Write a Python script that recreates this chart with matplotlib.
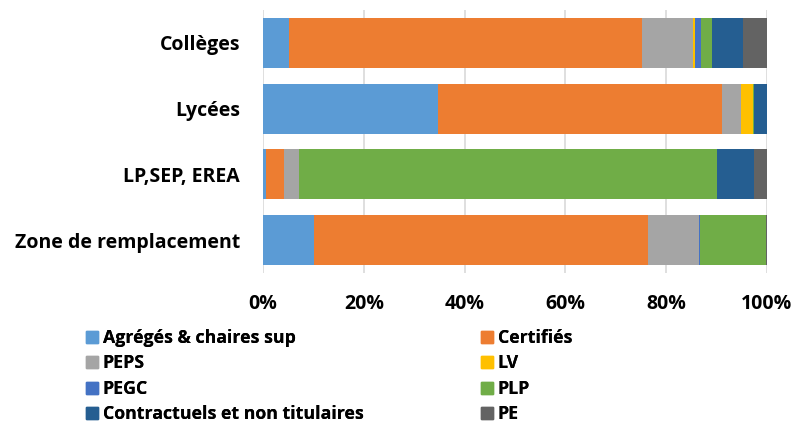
import matplotlib.pyplot as plt
from matplotlib.patches import Patch
import matplotlib.ticker as mtick

plt.rcParams['font.family'] = ['Open Sans', 'DejaVu Sans']
plt.rcParams['font.weight'] = 'bold'

categories = ["Collèges", "Lycées", "LP,SEP, EREA", "Zone de remplacement"]
series = ["Agrégés & chaires sup", "Certifiés", "PEPS", "LV", "PEGC", "PLP",
          "Contractuels et non titulaires", "PE"]
colors = ["#5B9BD5", "#ED7D31", "#A5A5A5", "#FFC000", "#4472C4", "#70AD47",
          "#255E91", "#636363"]

agreges = [5.1, 34.7, 0.5, 10.1]
certifies = [70.1, 56.3, 3.6, 66.2]
peps = [10.1, 3.7, 3.1, 10.2]
lv = [0.3, 2.5, 0.0, 0.0]
pegc = [1.3, 0.0, 0.0, 0.2]
plp = [2.1, 0.2, 82.8, 13.1]
contractuels = [6.1, 2.5, 7.4, 0.0]
pe = [4.8, 0.0, 2.5, 0.1]

values = [agreges, certifies, peps, lv, pegc, plp, contractuels, pe]

fig = plt.figure(figsize=(7.95, 4.23), dpi=100)
ax = fig.add_axes([263 / 795, 1 - 273 / 423, 504 / 795, 263 / 423])

ypos = list(range(len(categories)))
tot = [sum(v[i] for v in values) for i in range(len(categories))]
left = [0.0] * len(categories)
for name, vals, col in zip(series, values, colors):
    frac = [vals[i] / tot[i] for i in range(len(categories))]
    ax.barh(ypos, frac, left=left, height=0.76, color=col, label=name, zorder=3)
    left = [l + f for l, f in zip(left, frac)]

ax.set_xlim(0, 1)
ax.set_ylim(3.5, -0.5)
ax.set_xticks([0, 0.2, 0.4, 0.6, 0.8, 1.0])
ax.xaxis.set_major_formatter(mtick.PercentFormatter(1.0, decimals=0))
ax.set_yticks(ypos)
ax.set_yticklabels(categories)
for lab in ax.get_xticklabels() + ax.get_yticklabels():
    lab.set_fontweight('bold')
ax.tick_params(axis='both', length=0, labelsize=14)
ax.tick_params(axis='y', pad=16.5)
ax.tick_params(axis='x', pad=15)
ax.grid(axis='x', color='#D9D9D9', linewidth=1.2, zorder=0)
for s in ax.spines.values():
    s.set_visible(False)

# two legend columns placed separately
cols = [[0, 2, 4, 6], [1, 3, 5, 7]]
xs = [86 / 795, 481 / 795]
for idx, x0 in zip(cols, xs):
    handles = [Patch(color=colors[i], label=series[i]) for i in idx]
    leg = fig.legend(handles=handles, loc='upper left',
                     bbox_to_anchor=(x0, 1 - 329 / 423), frameon=False,
                     prop={'size': 12.8, 'weight': 'bold'},
                     handlelength=0.68, handleheight=0.68,
                     handletextpad=0.25, labelspacing=0.42,
                     borderaxespad=0, borderpad=0)
    fig.add_artist(leg)

fig.savefig("out.png", dpi=100)
